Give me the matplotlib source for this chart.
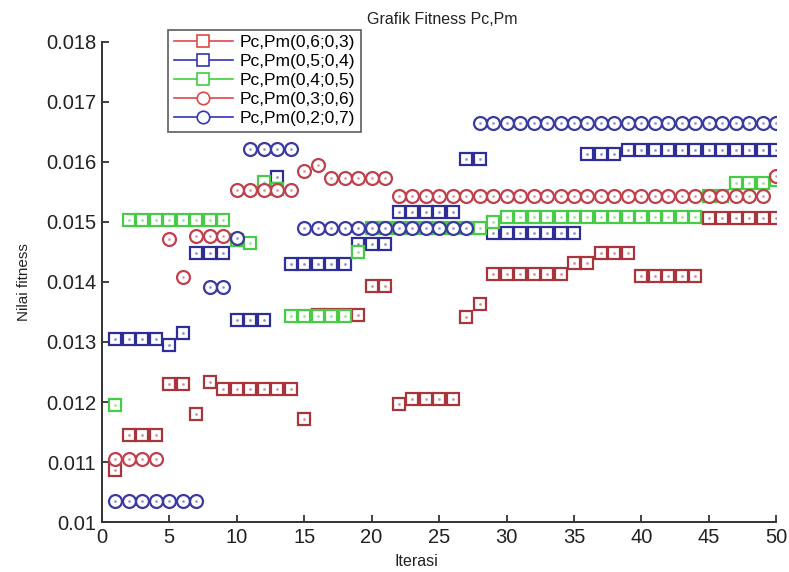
import numpy as np
import matplotlib
matplotlib.use("Agg")
import matplotlib.pyplot as plt
from matplotlib.lines import Line2D

plt.rcParams["font.family"] = ["Liberation Sans", "DejaVu Sans"]

iterasi = list(range(1, 51))

labels = ["Pc,Pm(0,6;0,3)", "Pc,Pm(0,5;0,4)", "Pc,Pm(0,4;0,5)",
          "Pc,Pm(0,3;0,6)", "Pc,Pm(0,2;0,7)"]

pc06 = [0.01087, 0.01145, 0.01145, 0.01145, 0.01230, 0.01230, 0.01180, 0.01233, 0.01222, 0.01222,
        0.01222, 0.01222, 0.01222, 0.01222, 0.01172, 0.01345, 0.01345, 0.01345, 0.01345, 0.01393,
        0.01393, 0.01197, 0.01205, 0.01205, 0.01205, 0.01205, 0.01342, 0.01363, 0.01413, 0.01413,
        0.01413, 0.01413, 0.01413, 0.01413, 0.01432, 0.01432, 0.01448, 0.01448, 0.01448, 0.01410,
        0.01410, 0.01410, 0.01410, 0.01410, 0.01506, 0.01506, 0.01506, 0.01506, 0.01506, 0.01506]

pc05 = [0.01305, 0.01305, 0.01305, 0.01305, 0.01295, 0.01315, 0.01448, 0.01448, 0.01448, 0.01337,
        0.01337, 0.01337, 0.01575, 0.01430, 0.01430, 0.01430, 0.01430, 0.01430, 0.01463, 0.01463,
        0.01463, 0.01517, 0.01517, 0.01517, 0.01517, 0.01517, 0.01605, 0.01605, 0.01482, 0.01482,
        0.01482, 0.01482, 0.01482, 0.01482, 0.01482, 0.01613, 0.01613, 0.01613, 0.01620, 0.01620,
        0.01620, 0.01620, 0.01620, 0.01620, 0.01620, 0.01620, 0.01620, 0.01620, 0.01620, 0.01620]

pc04 = [0.01195, 0.01503, 0.01503, 0.01503, 0.01503, 0.01503, 0.01503, 0.01503, 0.01503, 0.01470,
        0.01465, 0.01567, 0.01555, 0.01343, 0.01343, 0.01343, 0.01343, 0.01343, 0.01450, 0.01490,
        0.01490, 0.01490, 0.01490, 0.01490, 0.01490, 0.01490, 0.01490, 0.01490, 0.01500, 0.01508,
        0.01508, 0.01508, 0.01508, 0.01508, 0.01508, 0.01508, 0.01508, 0.01508, 0.01508, 0.01508,
        0.01508, 0.01508, 0.01508, 0.01508, 0.01543, 0.01543, 0.01565, 0.01565, 0.01565, 0.01570]

pc03 = [0.01105, 0.01105, 0.01105, 0.01105, 0.01472, 0.01408, 0.01477, 0.01477, 0.01477, 0.01553,
        0.01553, 0.01553, 0.01553, 0.01553, 0.01585, 0.01595, 0.01573, 0.01573, 0.01573, 0.01573,
        0.01573, 0.01543, 0.01543, 0.01543, 0.01543, 0.01543, 0.01543, 0.01543, 0.01543, 0.01543,
        0.01543, 0.01543, 0.01543, 0.01543, 0.01543, 0.01543, 0.01543, 0.01543, 0.01543, 0.01543,
        0.01543, 0.01543, 0.01543, 0.01543, 0.01543, 0.01543, 0.01543, 0.01543, 0.01543, 0.01577]

pc02 = [0.01035, 0.01035, 0.01035, 0.01035, 0.01035, 0.01035, 0.01035, 0.01392, 0.01392, 0.01473,
        0.01622, 0.01622, 0.01622, 0.01622, 0.01490, 0.01490, 0.01490, 0.01490, 0.01490, 0.01490,
        0.01490, 0.01490, 0.01490, 0.01490, 0.01490, 0.01490, 0.01490, 0.01665, 0.01665, 0.01665,
        0.01665, 0.01665, 0.01665, 0.01665, 0.01665, 0.01665, 0.01665, 0.01665, 0.01665, 0.01665,
        0.01665, 0.01665, 0.01665, 0.01665, 0.01665, 0.01665, 0.01665, 0.01665, 0.01665, 0.01665]

yticks = [0.01, 0.011, 0.012, 0.013, 0.014, 0.015, 0.016, 0.017, 0.018]
ytick_labels = ["0.01", "0.011", "0.012", "0.013", "0.014", "0.015", "0.016", "0.017", "0.018"]
xticks = [0, 5, 10, 15, 20, 25, 30, 35, 40, 45, 50]

series = [pc06, pc05, pc04, pc03, pc02]
markers = ["s", "s", "s", "o", "o"]
edge_cols = ["#a8343c", "#2e2e96", "#48cc48", "#c0404c", "#3a3aa0"]
leg_cols = ["#e04848", "#3434b0", "#40d040", "#e04848", "#3434c0"]

fig = plt.figure(figsize=(7.89, 5.72), dpi=100)
ax = fig.add_axes([0.129, 0.0874, 0.855, 0.8392])

for ys, m, c in zip(series, markers, edge_cols):
    ax.plot(iterasi, ys, linestyle="none", marker=m, markersize=9.3,
            markerfacecolor="white", markeredgecolor=c, markeredgewidth=1.6)
    ax.plot(iterasi, ys, linestyle="none", marker=".", markersize=2.5,
            color=c, alpha=0.35)

ax.set_xlim(0, 50)
ax.set_ylim(0.01, 0.018)
ax.set_xticks(xticks)
ax.set_yticks(yticks)
ax.set_yticklabels(ytick_labels)
ax.tick_params(direction="in", length=5, width=1.2, labelsize=14.5, colors="#222222")
ax.tick_params(axis="x", pad=4)
ax.tick_params(axis="y", pad=4)
ax.spines["top"].set_visible(False)
ax.spines["right"].set_visible(False)
for s in ["left", "bottom"]:
    ax.spines[s].set_linewidth(1.4)
    ax.spines[s].set_color("#333333")

ax.set_title("Grafik Fitness Pc,Pm", fontsize=11.5, pad=13, color="#222222", x=0.505)
ax.set_xlabel("Iterasi", fontsize=11.5, color="#222222")
ax.xaxis.set_label_coords(0.466, -0.066)
ax.set_ylabel("Nilai fitness", fontsize=11, color="#222222")
ax.yaxis.set_label_coords(-0.105, 0.5)

handles = [Line2D([0], [0], color=lc, lw=1.2, marker=m, markersize=9,
                  markerfacecolor="white", markeredgecolor=lc, markeredgewidth=1.2)
           for lc, m in zip(leg_cols, markers)]
leg = fig.legend(handles, labels, loc="upper left", bbox_to_anchor=(0.213, 0.948),
                 fontsize=12.5, frameon=True, fancybox=False, edgecolor="#333333",
                 handlelength=3.4, handletextpad=0.4, labelspacing=0.22,
                 borderpad=0.32, borderaxespad=0)
leg.get_frame().set_linewidth(1.2)

fig.savefig("out.png", dpi=100)
